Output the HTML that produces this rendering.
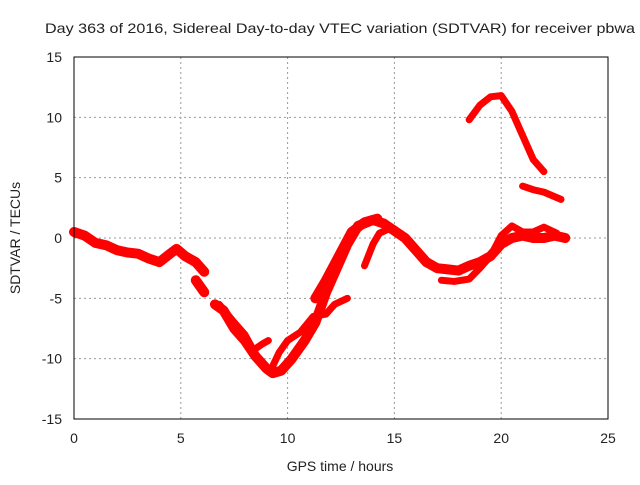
<!DOCTYPE html>
<html><head><meta charset="utf-8"><style>
body{margin:0;background:#fff;font-family:"Liberation Sans",sans-serif}
svg text{font-family:"Liberation Sans",sans-serif;font-size:14px;fill:#222}
</style></head><body>
<svg id="c" width="640" height="480">
<text x="340" y="33" text-anchor="middle" textLength="590" lengthAdjust="spacingAndGlyphs">Day 363 of 2016, Sidereal Day-to-day VTEC variation (SDTVAR) for receiver pbwa</text>
<text x="340" y="471" text-anchor="middle">GPS time / hours</text>
<text transform="translate(20,238) rotate(-90)" text-anchor="middle">SDTVAR / TECUs</text>
<g id="grid"></g><g id="series"></g>
<rect x="74" y="57" width="534" height="362" fill="none" stroke="#000" stroke-width="1"/>
</svg>
<script>
const xTicks=[0,5,10,15,20,25];
const yTicks=[-15,-10,-5,0,5,10,15];
const seg1X=[0,0.5,1,1.5,2,2.5,3,3.5,4,4.5,4.8,5.2,5.7,6.1];
const seg1Y=[0.5,0.2,-0.4,-0.6,-1,-1.2,-1.3,-1.7,-2.0,-1.3,-0.9,-1.5,-2.0,-2.8];
const seg2X=[5.7,6.1];
const seg2Y=[-3.5,-4.5];
const seg3X=[6.6,7,7.5,8,8.5,9,9.3,9.7,10.2,10.8,11.3,11.8,12.3,12.8,13.3,14,14.5,15,15.5,16,16.5,17,17.5,18,18.5,19,19.5,20,20.5,21,21.5,22,22.5,23];
const seg3Y=[-5.5,-6,-7.5,-8.5,-9.8,-10.8,-11.2,-11,-10,-8.5,-7,-4.5,-2.5,-0.5,1,1.5,1.2,0.6,0,-1,-2,-2.5,-2.6,-2.7,-2.3,-2,-1.5,-0.5,0,0.2,0,0,0.2,0];
const seg4X=[6.8,7.5,8,8.4,8.8,9.1];
const seg4Y=[-5.5,-7,-8,-9.3,-8.8,-8.5];
const seg5X=[9.2,9.6,10,10.6,11.2,11.8,12.2,12.8];
const seg5Y=[-11,-9.5,-8.5,-7.8,-6.5,-6.3,-5.5,-5];
const seg6X=[11.3,11.8,12.4,13,13.6,14.2];
const seg6Y=[-5,-3.5,-1.5,0.5,1.3,1.6];
const seg7X=[13.6,14,14.3,14.8];
const seg7Y=[-2.3,-0.5,0.4,0.8];
const seg8X=[17.2,17.8,18.5,19,19.5,20,20.5,21,21.5,22,22.6];
const seg8Y=[-3.5,-3.6,-3.4,-2.5,-1.5,0.2,1,0.5,0.5,0.9,0.4];
const seg9X=[18.5,19,19.5,20,20.5,21,21.5,22];
const seg9Y=[9.8,11,11.7,11.8,10.5,8.5,6.5,5.5];
const seg10X=[21,21.5,22,22.8];
const seg10Y=[4.3,4,3.8,3.2];
const X=v=>74+v*(534/25), Y=v=>238-v*(362/30);
const NS="http://www.w3.org/2000/svg";
const grid=document.getElementById('grid'), ser=document.getElementById('series');
const svg=document.getElementById('c');
xTicks.forEach(t=>{
 if(t>0&&t<25){const l=document.createElementNS(NS,'line');l.setAttribute('x1',X(t));l.setAttribute('x2',X(t));l.setAttribute('y1',57);l.setAttribute('y2',419);l.setAttribute('stroke','#999');l.setAttribute('stroke-dasharray','2,3');
 
 
 grid.appendChild(l);}
 const tx=document.createElementNS(NS,'text');tx.setAttribute('x',X(t));tx.setAttribute('y',443);tx.setAttribute('text-anchor','middle');tx.textContent=t;
 
 
 svg.appendChild(tx);
});
yTicks.forEach(t=>{
 if(t>-15&&t<15){const l=document.createElementNS(NS,'line');l.setAttribute('x1',74);l.setAttribute('x2',608);l.setAttribute('y1',Y(t));l.setAttribute('y2',Y(t));l.setAttribute('stroke','#999');l.setAttribute('stroke-dasharray','2,3');
 
 
 grid.appendChild(l);}
 const tx=document.createElementNS(NS,'text');tx.setAttribute('x',62);tx.setAttribute('y',Y(t)+5);tx.setAttribute('text-anchor','end');tx.textContent=t;
 
 
 svg.appendChild(tx);
});
[[seg1X,seg1Y],[seg2X,seg2Y],[seg3X,seg3Y],[seg4X,seg4Y],[seg5X,seg5Y],[seg6X,seg6Y],[seg7X,seg7Y],[seg8X,seg8Y],[seg9X,seg9Y],[seg10X,seg10Y]].forEach(([xs,ys],i)=>{
 const p=document.createElementNS(NS,'polyline');
 p.setAttribute('points',xs.map((x,j)=>X(x)+','+Y(ys[j])).join(' '));
 p.setAttribute('fill','none');p.setAttribute('stroke','#f00');
 p.setAttribute('stroke-width',i<3||i==5?10:7);p.setAttribute('stroke-linejoin','round');p.setAttribute('stroke-linecap','round');
 
 
 ser.appendChild(p);
});
</script>
</body></html>
